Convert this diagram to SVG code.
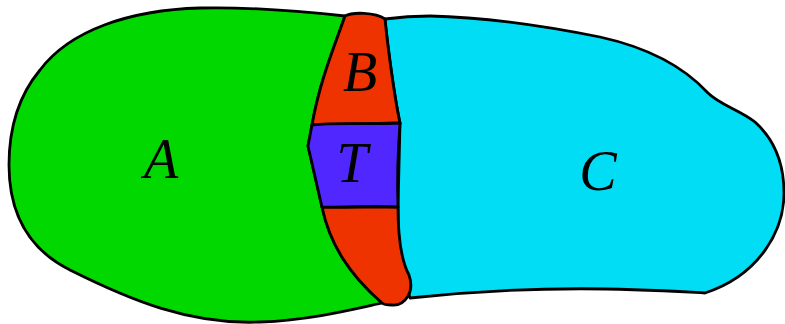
<svg xmlns="http://www.w3.org/2000/svg" width="785" height="324" viewBox="0 0 785 324">
<style>
.r{stroke:#000;stroke-width:2.8;stroke-linejoin:round;stroke-linecap:round}
.l{font-family:"Liberation Serif",serif;font-style:italic;font-size:56px;text-anchor:middle;fill:#000}
</style>
<rect width="785" height="324" fill="#fff"/>
<g id="A">
<path class="r" fill="#00d800" d="M345,16 C290,10 240,7 200,8 C130,10 70,30 40,70 C15,100 9,135 9,165 C9,215 30,250 70,270 C130,300 190,325 260,322 C310,320 350,310 382,303 C350,275 330,245 322,207 L308,146 L312,125 C320,80 335,45 345,16 Z"/>
<text class="l" x="161" y="178">A</text>
</g>
<g id="C">
<path class="r" fill="#00ddf5" d="M385,19 C400,17 420,16 430,16 C480,17 540,25 600,37 C650,48 685,68 708,93 C720,105 740,110 755,122 C775,140 784,165 784,193 C784,230 760,275 705,293 C650,290 550,283 410,298 C405,280 398,260 398,207 L400,123 C395,100 388,50 385,19 Z"/>
<text class="l" x="598" y="190">C</text>
</g>
<g id="B">
<path class="r" fill="#ee3300" d="M345,16 C352,12 375,12 385,19 C388,50 395,100 400,123 L312,125 C320,80 335,45 345,16 Z"/>
<path class="r" fill="#ee3300" d="M322,207 L398,207 C398,240 402,262 409,275 C415,292 405,306 392,305 C386,305 383,304 382,303 C350,275 330,245 322,207 Z"/>
<text class="l" x="360" y="91">B</text>
</g>
<g id="T">
<path class="r" fill="#5028ff" d="M312,125 C340,122 370,125 400,123 C398,150 397,180 398,207 C370,205 345,208 322,207 L308,146 Z"/>
<text class="l" x="352" y="182">T</text>
</g>
</svg>
